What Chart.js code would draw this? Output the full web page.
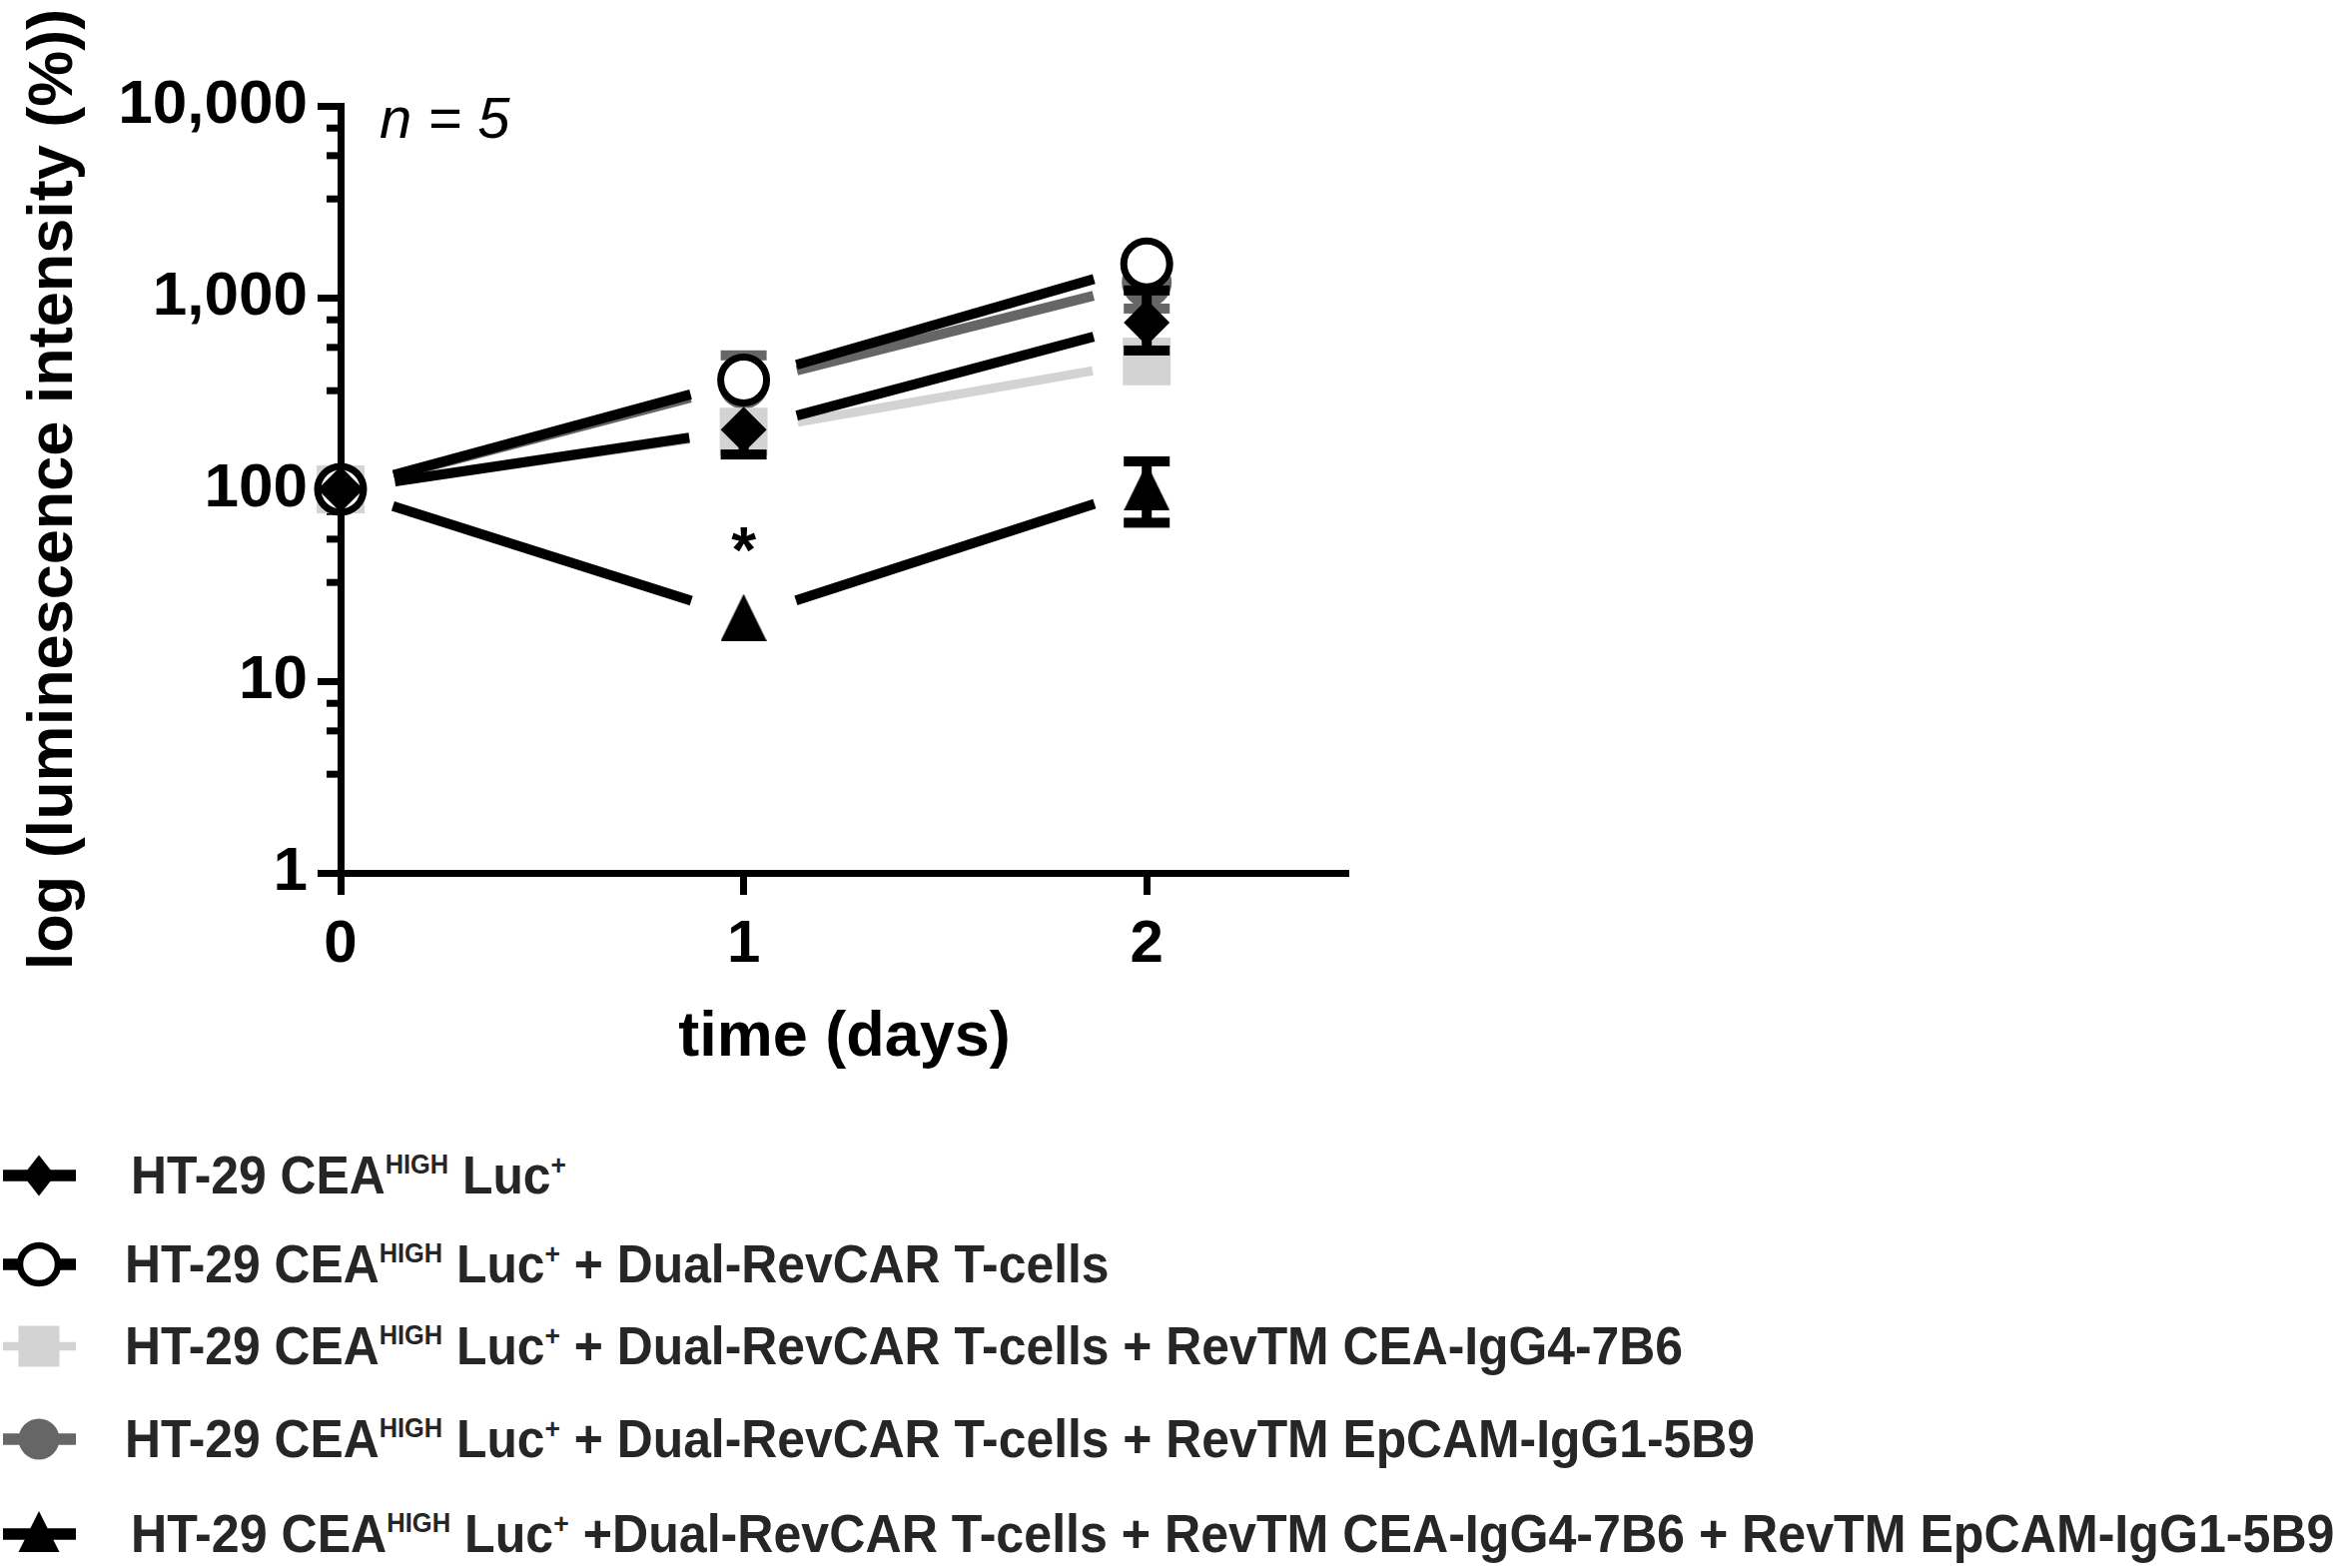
<!DOCTYPE html>
<html>
<head>
<meta charset="utf-8">
<script src="https://cdn.jsdelivr.net/npm/chart.js@4.4.1/dist/chart.umd.min.js"></script>
<style>
  html, body { margin: 0; padding: 0; background: #fff; }
  #wrap { position: relative; width: 2337px; height: 1570px; overflow: hidden; background: #fff; }
  #plot { position: absolute; left: 0; top: 0; }
  .row { position: absolute; left: 0; width: 2337px; height: 80px; }
  .row canvas { position: absolute; left: 0; top: 10px; }
  .row .label {
    position: absolute; top: 0; height: 80px; line-height: 80px;
    font-family: "Liberation Sans", Arial, sans-serif; font-weight: bold; font-size: 53px;
    color: #262626; white-space: nowrap;
    transform: scaleX(0.94); transform-origin: 0 50%;
  }
  .row .label.wide { transform: scaleX(0.946); }
  .row .label .sup { position: relative; font-size: 27px; top: -20px; }
  .row .label .sup.plus { font-size: 28px; top: -19px; }
</style>
</head>
<body>
<div id="wrap">
  <canvas id="plot" width="2337" height="1100"></canvas>
  <div id="legend"></div>
</div>
<script>
// ---- data -------------------------------------------------------------
const days = [0, 1, 2];

const seriesNames = [
  'HT-29 CEA HIGH Luc+',
  'HT-29 CEA HIGH Luc+ + Dual-RevCAR T-cells',
  'HT-29 CEA HIGH Luc+ + Dual-RevCAR T-cells + RevTM CEA-IgG4-7B6',
  'HT-29 CEA HIGH Luc+ + Dual-RevCAR T-cells + RevTM EpCAM-IgG1-5B9',
  'HT-29 CEA HIGH Luc+ + Dual-RevCAR T-cells + RevTM CEA-IgG4-7B6 + RevTM EpCAM-IgG1-5B9'
];
// text that follows "HT-29 CEA^HIGH Luc^+" in each legend entry
const legendTails = [
  '',
  ' + Dual-RevCAR T-cells',
  ' + Dual-RevCAR T-cells + RevTM CEA-IgG4-7B6',
  ' + Dual-RevCAR T-cells + RevTM EpCAM-IgG1-5B9',
  ' +Dual-RevCAR T-cells + RevTM CEA-IgG4-7B6 + RevTM EpCAM-IgG1-5B9'
];

// luminescence (% of day 0), mean and error-bar ends
const tumourOnly      = [100, 205, 740];
const tumourOnlyLo    = [null, 152, 530];
const tumourOnlyHi    = [null, null, 1090];

const dualCar         = [100, 372, 1500];
const dualCarLo       = [null, null, null];
const dualCarHi       = [null, null, null];

const dualCarCea      = [100, 200, 465];
const dualCarCeaLo    = [null, null, null];
const dualCarCeaHi    = [null, null, null];

const dualCarEpcam    = [100, 355, 1200];
const dualCarEpcamLo  = [null, null, 877];
const dualCarEpcamHi  = [null, 500, null];

const dualCarBoth     = [100, 21.5, 103];
const dualCarBothLo   = [null, null, 67];
const dualCarBothHi   = [null, null, 140];

// axes
const yTickValues = [1, 10, 100, 1000, 10000];
const yTickLabels = ['1', '10', '100', '1,000', '10,000'];
const yMinorSteps = [3.27, 5.5, 7.66];
const xTickValues = [0, 1, 2];
const xTickLabels = ['0', '1', '2'];
const yAxisTitle = 'log (luminescence intensity (%))';
const xAxisTitle = 'time (days)';
const sampleNote = 'n = 5';
const significanceMark = '*';
const significantSeries = 4;
const significantDay = 1;

// ---- styling ----------------------------------------------------------
const FONT = '"Liberation Sans", Arial, sans-serif';
const BLACK = '#000000';
const LIGHT = '#d3d3d3';
const DARK = '#666666';

function triangleImage(w, h, color) {
  const c = document.createElement('canvas');
  c.width = w; c.height = h;
  const g = c.getContext('2d');
  g.fillStyle = color;
  g.beginPath();
  g.moveTo(w / 2, 0); g.lineTo(w, h); g.lineTo(0, h); g.closePath();
  g.fill();
  return c;
}

function series(label, values, lo, hi, opts) {
  return Object.assign({
    label: label,
    data: days.map((d, i) => ({ x: d, y: values[i] })),
    errLo: lo, errHi: hi,
    showLine: false,
    clip: false,
    borderWidth: 0,
    pointBorderWidth: 0,
    pointHoverRadius: 0
  }, opts);
}

const datasets = [
  series(seriesNames[0], tumourOnly, tumourOnlyLo, tumourOnlyHi, {
    pointStyle: 'rectRot', pointRadius: 23,
    pointBackgroundColor: BLACK, pointBorderColor: BLACK,
    segColor: BLACK, segWidth: 10, barColor: BLACK
  }),
  series(seriesNames[1], dualCar, dualCarLo, dualCarHi, {
    pointStyle: 'circle', pointRadius: 23, pointBorderWidth: 7,
    pointBackgroundColor: '#ffffff', pointBorderColor: BLACK,
    segColor: BLACK, segWidth: 10, barColor: BLACK
  }),
  series(seriesNames[2], dualCarCea, dualCarCeaLo, dualCarCeaHi, {
    pointStyle: 'rect', pointRadius: 33.9,
    pointBackgroundColor: LIGHT, pointBorderColor: LIGHT,
    segColor: LIGHT, segWidth: 9, barColor: LIGHT
  }),
  series(seriesNames[3], dualCarEpcam, dualCarEpcamLo, dualCarEpcamHi, {
    pointStyle: 'circle', pointRadius: 25,
    pointBackgroundColor: DARK, pointBorderColor: DARK,
    segColor: DARK, segWidth: 10, barColor: DARK
  }),
  series(seriesNames[4], dualCarBoth, dualCarBothLo, dualCarBothHi, {
    pointStyle: triangleImage(46, 47, BLACK), pointRadius: 24,
    pointBackgroundColor: BLACK, pointBorderColor: BLACK,
    segColor: BLACK, segWidth: 10, barColor: BLACK
  })
];

// ---- plugin: gapped connecting lines, error bars, minor ticks, notes ---
const SEG_GAP = 55;
const CAP_W = 46, CAP_H = 10, STEM_W = 10;

const plotExtras = {
  id: 'plotExtras',
  beforeDatasetsDraw(chart) {
    const ctx = chart.ctx, y = chart.scales.y, area = chart.chartArea;
    ctx.save();
    ctx.strokeStyle = BLACK;
    ctx.lineWidth = 7;
    for (let d = 1; d < yTickValues.length; d++) {
      for (const m of yMinorSteps) {
        const py = y.getPixelForValue(yTickValues[d - 1] * m);
        ctx.beginPath();
        ctx.moveTo(area.left - 14, py);
        ctx.lineTo(area.left, py);
        ctx.stroke();
      }
    }
    ctx.restore();
  },
  beforeDatasetDraw(chart, args) {
    const ds = chart.data.datasets[args.index];
    const pts = args.meta.data;
    const y = chart.scales.y;
    const ctx = chart.ctx;
    ctx.save();
    ctx.strokeStyle = ds.segColor;
    ctx.lineWidth = ds.segWidth;
    ctx.lineCap = 'butt';
    for (let i = 0; i < pts.length - 1; i++) {
      const a = pts[i], b = pts[i + 1];
      const dx = b.x - a.x, dy = b.y - a.y, len = Math.hypot(dx, dy);
      const ux = dx / len, uy = dy / len;
      ctx.beginPath();
      ctx.moveTo(a.x + ux * SEG_GAP, a.y + uy * SEG_GAP);
      ctx.lineTo(b.x - ux * SEG_GAP, b.y - uy * SEG_GAP);
      ctx.stroke();
    }
    ctx.fillStyle = ds.barColor;
    pts.forEach((p, i) => {
      [ds.errLo[i], ds.errHi[i]].forEach(v => {
        if (v == null) return;
        const py = y.getPixelForValue(v);
        ctx.fillRect(p.x - STEM_W / 2, Math.min(py, p.y), STEM_W, Math.abs(p.y - py));
        ctx.fillRect(p.x - CAP_W / 2, py - CAP_H / 2, CAP_W, CAP_H);
      });
    });
    ctx.restore();
  },
  afterDatasetsDraw(chart) {
    const ctx = chart.ctx, area = chart.chartArea;
    ctx.save();
    ctx.fillStyle = BLACK;
    ctx.font = 'italic 58px ' + FONT;
    ctx.textAlign = 'left';
    ctx.textBaseline = 'middle';
    ctx.fillText(sampleNote, area.left + 39, area.top + 16);
    const p = chart.getDatasetMeta(significantSeries).data[significantDay];
    ctx.font = 'bold 64px ' + FONT;
    ctx.textAlign = 'center';
    ctx.textBaseline = 'alphabetic';
    ctx.fillText(significanceMark, p.x, p.y - 45);
    ctx.restore();
  }
};

Chart.defaults.font.family = FONT;
Chart.defaults.color = BLACK;

new Chart(document.getElementById('plot'), {
  type: 'scatter',
  data: { datasets: datasets },
  plugins: [plotExtras],
  options: {
    responsive: false,
    animation: false,
    devicePixelRatio: 1,
    layout: { padding: { left: 0, top: 106, right: 987, bottom: 23 } },
    plugins: { legend: { display: false }, tooltip: { enabled: false } },
    scales: {
      x: {
        type: 'linear', min: 0, max: 2.5,
        afterBuildTicks: s => { s.ticks = xTickValues.map(v => ({ value: v })); },
        afterFit: s => { s.height = 203; },
        ticks: {
          callback: (v, i) => xTickLabels[i],
          font: { size: 60, weight: 'bold' }, color: BLACK, padding: 14, maxRotation: 0
        },
        grid: { display: true, drawOnChartArea: false, drawTicks: true, tickLength: 22, tickWidth: 7, tickColor: BLACK },
        border: { display: true, width: 7, color: BLACK },
        title: { display: true, text: xAxisTitle, color: BLACK, font: { size: 63, weight: 'bold', lineHeight: 1.2 }, padding: { top: 0, bottom: 0 } }
      },
      y: {
        type: 'logarithmic', min: 1, max: 10000,
        afterBuildTicks: s => { s.ticks = yTickValues.map(v => ({ value: v })); },
        afterFit: s => { s.width = 341; },
        ticks: {
          callback: (v, i) => yTickLabels[i],
          font: { size: 62, weight: 'bold' }, color: BLACK, padding: 10
        },
        grid: { display: true, drawOnChartArea: false, drawTicks: true, tickLength: 23, tickWidth: 7, tickColor: BLACK },
        border: { display: true, width: 7, color: BLACK },
        title: { display: true, text: yAxisTitle, color: BLACK, font: { size: 63, weight: 'bold', lineHeight: 1.2 }, padding: { top: 17, bottom: 0 } }
      }
    }
  }
});

// ---- legend -----------------------------------------------------------
const legendRowsY = [1177, 1266, 1348, 1441, 1536];
const legendTextX = [131, 125, 125, 125, 131];
const legendKeys = [
  { color: BLACK, line: 11.5, draw: (g, cx, cy) => { g.beginPath(); g.moveTo(cx, cy - 20.5); g.lineTo(cx + 16, cy); g.lineTo(cx, cy + 20.5); g.lineTo(cx - 16, cy); g.closePath(); g.fill(); } },
  { color: BLACK, line: 11.5, draw: (g, cx, cy) => { g.fillStyle = '#fff'; g.beginPath(); g.arc(cx, cy, 19, 0, Math.PI * 2); g.fill(); g.lineWidth = 6.5; g.strokeStyle = BLACK; g.stroke(); } },
  { color: LIGHT, line: 8.5, draw: (g, cx, cy) => { g.fillRect(cx - 20.5, cy - 20.5, 41, 41); } },
  { color: DARK, line: 11.5, draw: (g, cx, cy) => { g.beginPath(); g.arc(cx, cy, 20.5, 0, Math.PI * 2); g.fill(); } },
  { color: BLACK, line: 11.5, draw: (g, cx, cy) => { g.beginPath(); g.moveTo(cx, cy - 23); g.lineTo(cx + 20.5, cy + 18); g.lineTo(cx - 20.5, cy + 18); g.closePath(); g.fill(); } }
];

const legend = document.getElementById('legend');
legendRowsY.forEach((cy, i) => {
  const row = document.createElement('div');
  row.className = 'row';
  row.style.top = (cy - 40) + 'px';
  const key = document.createElement('canvas');
  key.width = 80; key.height = 60;
  const g = key.getContext('2d');
  g.fillStyle = legendKeys[i].color;
  g.fillRect(3, 30 - legendKeys[i].line / 2, 73, legendKeys[i].line);
  legendKeys[i].draw(g, 39, 30);
  row.appendChild(key);
  const label = document.createElement('div');
  label.className = i === legendRowsY.length - 1 ? 'label wide' : 'label';
  label.style.left = legendTextX[i] + 'px';
  label.innerHTML = 'HT-29 CEA<span class="sup">HIGH</span> Luc<span class="sup plus">+</span>' + legendTails[i];
  row.appendChild(label);
  legend.appendChild(row);
});
</script>
</body>
</html>
